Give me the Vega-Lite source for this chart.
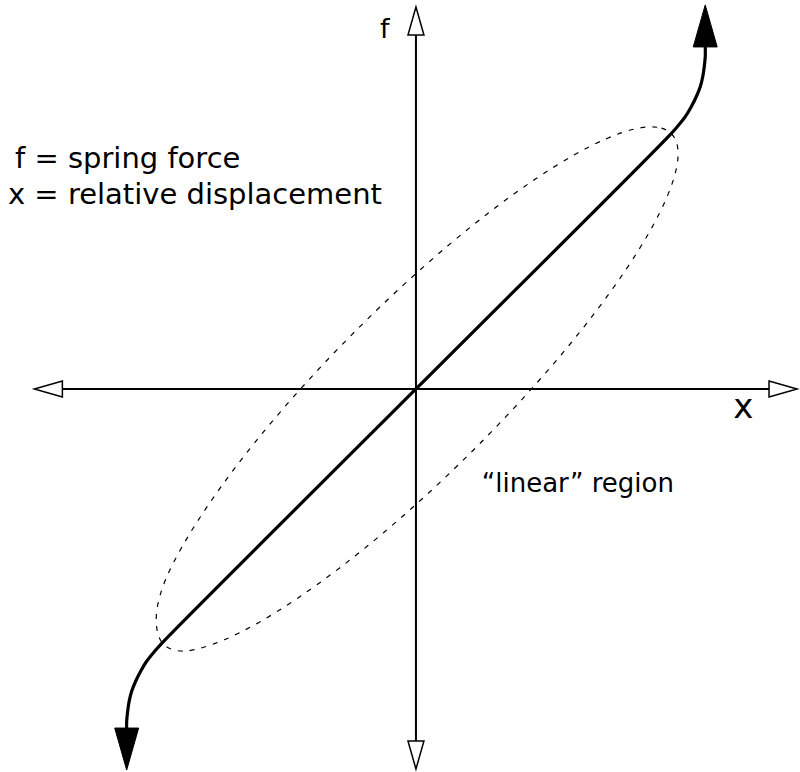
{
  "$schema": "https://vega.github.io/schema/vega-lite/v6.json",
  "width": 800,
  "height": 772,
  "autosize": {"type": "fit", "contains": "padding"},
  "padding": 0,
  "background": "white",
  "config": {"view": {"stroke": null}},
  "datasets": {
    "axes": [
      {"x": -354, "f": 0, "x2": 354, "f2": 0},
      {"x": 0, "f": -353, "x2": 0, "f2": 355}
    ],
    "axisHeads": [
      {"x": -368.5, "f": 0, "dir": "left"},
      {"x": 368, "f": 0, "dir": "right"},
      {"x": 0, "f": 369, "dir": "up"},
      {"x": 0, "f": -367, "dir": "down"}
    ],
    "curveHeads": [
      {"x": 290, "f": 364, "dir": "up"},
      {"x": -290, "f": -361, "dir": "down"}
    ],
    "curve": [
      {"i": 0, "x": -290, "f": -345},
      {"i": 1, "x": -290, "f": -333},
      {"i": 2, "x": -289, "f": -323},
      {"i": 3, "x": -287.5, "f": -313},
      {"i": 4, "x": -285, "f": -303},
      {"i": 5, "x": -281, "f": -293},
      {"i": 6, "x": -276, "f": -283},
      {"i": 7, "x": -270, "f": -273},
      {"i": 8, "x": -262, "f": -263},
      {"i": 9, "x": -252, "f": -252},
      {"i": 10, "x": 0, "f": 0},
      {"i": 11, "x": 252, "f": 252},
      {"i": 12, "x": 262, "f": 263},
      {"i": 13, "x": 270, "f": 273},
      {"i": 14, "x": 276, "f": 283},
      {"i": 15, "x": 281, "f": 293},
      {"i": 16, "x": 285, "f": 303},
      {"i": 17, "x": 287.5, "f": 313},
      {"i": 18, "x": 289, "f": 323},
      {"i": 19, "x": 290, "f": 333},
      {"i": 20, "x": 290, "f": 345}
    ],
    "ellipse": [
      {"i": 0, "x": 256, "f": 256},
      {"i": 1, "x": 241.8, "f": 262.4},
      {"i": 2, "x": 220.2, "f": 260.9},
      {"i": 3, "x": 192.0, "f": 251.4},
      {"i": 4, "x": 157.9, "f": 234.3},
      {"i": 5, "x": 119.0, "f": 210.0},
      {"i": 6, "x": 76.5, "f": 179.4},
      {"i": 7, "x": 31.7, "f": 143.4},
      {"i": 8, "x": -14.0, "f": 103.0},
      {"i": 9, "x": -59.4, "f": 59.4},
      {"i": 10, "x": -103.0, "f": 14.0},
      {"i": 11, "x": -143.4, "f": -31.7},
      {"i": 12, "x": -179.4, "f": -76.5},
      {"i": 13, "x": -210.0, "f": -119.0},
      {"i": 14, "x": -234.3, "f": -157.9},
      {"i": 15, "x": -251.4, "f": -192.0},
      {"i": 16, "x": -259.5, "f": -220.2},
      {"i": 17, "x": -259.5, "f": -241.8},
      {"i": 18, "x": -253, "f": -256},
      {"i": 19, "x": -239, "f": -262.4},
      {"i": 20, "x": -220.2, "f": -260.9},
      {"i": 21, "x": -192.0, "f": -251.4},
      {"i": 22, "x": -157.9, "f": -234.3},
      {"i": 23, "x": -119.0, "f": -210.0},
      {"i": 24, "x": -76.5, "f": -179.4},
      {"i": 25, "x": -31.7, "f": -143.4},
      {"i": 26, "x": 14.0, "f": -103.0},
      {"i": 27, "x": 59.4, "f": -59.4},
      {"i": 28, "x": 103.0, "f": -14.0},
      {"i": 29, "x": 143.4, "f": 31.7},
      {"i": 30, "x": 179.4, "f": 76.5},
      {"i": 31, "x": 210.0, "f": 119.0},
      {"i": 32, "x": 234.3, "f": 157.9},
      {"i": 33, "x": 251.4, "f": 192.0},
      {"i": 34, "x": 260.9, "f": 220.2},
      {"i": 35, "x": 262.4, "f": 241.8}
    ],
    "notes": [
      {"x": -402, "f": 222, "text": "f = spring force"},
      {"x": -409, "f": 185, "text": "x = relative displacement"}
    ],
    "region": [
      {"x": 66, "f": -103, "text": "“linear” region"}
    ],
    "axisF": [
      {"x": -36, "f": 352, "text": "f"}
    ],
    "axisX": [
      {"x": 318, "f": -29, "text": "x"}
    ]
  },
  "encoding": {
    "x": {"field": "x", "type": "quantitative", "axis": null,
          "scale": {"domain": [-417, 383], "nice": false, "zero": false}},
    "y": {"field": "f", "type": "quantitative", "axis": null,
          "scale": {"domain": [-382, 390], "nice": false, "zero": false}}
  },
  "layer": [
    {
      "data": {"name": "ellipse"},
      "mark": {"type": "line", "interpolate": "cardinal-closed", "stroke": "black", "strokeWidth": 1.2, "strokeDash": [5, 7]},
      "encoding": {"order": {"field": "i", "type": "quantitative"}}
    },
    {
      "data": {"name": "axes"},
      "mark": {"type": "rule", "stroke": "black", "strokeWidth": 2},
      "encoding": {
        "x2": {"field": "x2"},
        "y2": {"field": "f2"}
      }
    },
    {
      "data": {"name": "curve"},
      "mark": {"type": "line", "interpolate": "catmull-rom", "stroke": "black", "strokeWidth": 3.2},
      "encoding": {"order": {"field": "i", "type": "quantitative"}}
    },
    {
      "data": {"name": "axisHeads"},
      "mark": {"type": "point", "filled": true, "fill": "white", "stroke": "black", "strokeWidth": 1.5, "size": 784, "opacity": 1},
      "encoding": {
        "shape": {"field": "dir", "type": "nominal", "legend": null,
          "scale": {"domain": ["left", "right", "up", "down"],
                    "range": ["M-1,0L1,-0.57L1,0.57Z", "M1,0L-1,-0.57L-1,0.57Z", "M0,-1L0.57,1L-0.57,1Z", "M0,1L0.57,-1L-0.57,-1Z"]}}
      }
    },
    {
      "data": {"name": "curveHeads"},
      "mark": {"type": "point", "filled": true, "fill": "black", "stroke": "black", "strokeWidth": 1, "size": 1764, "opacity": 1},
      "encoding": {
        "shape": {"field": "dir", "type": "nominal", "legend": null,
          "scale": {"domain": ["left", "right", "up", "down"],
                    "range": ["M-1,0L1,-0.57L1,0.57Z", "M1,0L-1,-0.57L-1,0.57Z", "M0,-1L0.57,1L-0.57,1Z", "M0,1L0.57,-1L-0.57,-1Z"]}}
      }
    },
    {
      "data": {"name": "notes"},
      "mark": {"type": "text", "align": "left", "baseline": "alphabetic", "font": "DejaVu Sans", "fontSize": 29, "fill": "black"},
      "encoding": {"text": {"field": "text"}}
    },
    {
      "data": {"name": "region"},
      "mark": {"type": "text", "align": "left", "baseline": "alphabetic", "font": "DejaVu Sans", "fontSize": 26, "fill": "black"},
      "encoding": {"text": {"field": "text"}}
    },
    {
      "data": {"name": "axisF"},
      "mark": {"type": "text", "align": "left", "baseline": "alphabetic", "font": "DejaVu Sans", "fontSize": 27, "fill": "black"},
      "encoding": {"text": {"field": "text"}}
    },
    {
      "data": {"name": "axisX"},
      "mark": {"type": "text", "align": "left", "baseline": "alphabetic", "font": "DejaVu Sans", "fontSize": 34, "fill": "black"},
      "encoding": {"text": {"field": "text"}}
    }
  ]
}
